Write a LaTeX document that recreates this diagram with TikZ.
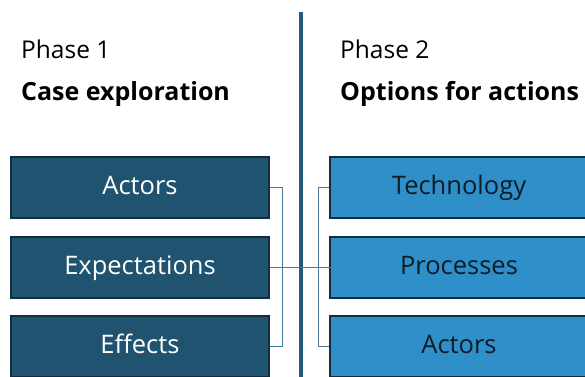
\documentclass[tikz,border=0pt]{standalone}
\usepackage{fontspec}
\setmainfont{Open Sans}
\usetikzlibrary{calc}
\definecolor{leftfill}{RGB}{31,83,112}
\definecolor{rightfill}{RGB}{46,143,201}
\definecolor{boxline}{RGB}{18,45,64}
\definecolor{rightink}{RGB}{14,28,38}
\definecolor{divider}{RGB}{36,88,122}
\definecolor{wire}{RGB}{72,120,156}
\tikzset{
  phasebox/.style={draw=boxline, line width=1.4pt, minimum width=258pt,
    minimum height=61pt, inner sep=0pt, text height=17pt, text depth=4pt,
    font=\fontsize{25.5}{27}\selectfont},
  leftbox/.style={phasebox, fill=leftfill, text=white},
  rightbox/.style={phasebox, fill=rightfill, text=rightink},
  wireline/.style={draw=wire, line width=1.3pt},
  heading/.style={anchor=base west, inner sep=0pt, font=\fontsize{24.5}{27}\selectfont},
  title/.style={heading, font=\fontsize{25}{27}\selectfont\bfseries},
}
\begin{document}
\begin{tikzpicture}[x=1pt, y=-1pt]
  \useasboundingbox (0,0) rectangle (585,376);
  \clip (0,0) rectangle (585,376);

  % column headings
  \node[heading] (p1) at (21,58) {Phase 1};
  \node[title] (t1) at (21,100) {Case exploration};
  \node[heading] (p2) at (340,58) {Phase 2};
  \node[title] (t2) at (340,100) {Options for actions};

  % divider between the two phases
  \coordinate (dtop) at (301,12);
  \coordinate (dbot) at (301,380);
  \draw[divider, line width=4pt] (dtop) -- (dbot);

  % phase 1 boxes
  \node[leftbox] (l1) at (140,187.5) {Actors};
  \node[leftbox] (l2) at (140,267.5) {Expectations};
  \node[leftbox] (l3) at (140,346.5) {Effects};

  % phase 2 boxes
  \node[rightbox] (r1) at (459,187.5) {Technology};
  \node[rightbox] (r2) at (459,267.5) {Processes};
  \node[rightbox] (r3) at (459,346.5) {Actors};

  % connectors
  \draw[wireline] (l1.east) -- ++(13,0) |- (l3.east);
  \draw[wireline] (r1.west) -- ++(-11,0) |- (r3.west);
  \draw[wireline] (l2.east) -- ($(r2.west)+(3,0)$);
\end{tikzpicture}
\end{document}
